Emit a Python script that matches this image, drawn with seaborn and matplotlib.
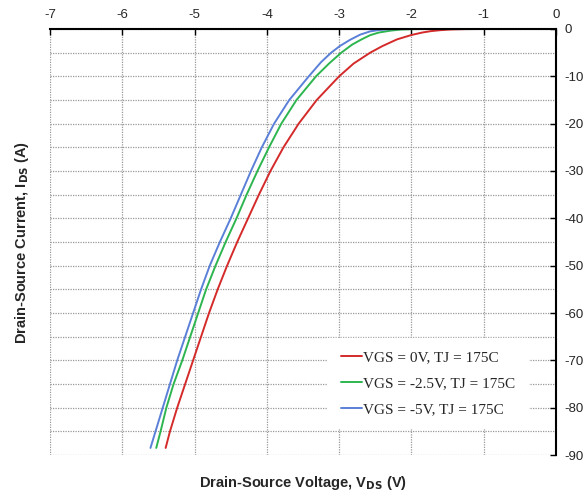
import pandas as pd
import matplotlib.pyplot as plt
import seaborn as sns
from matplotlib.ticker import MultipleLocator

# Drain-source voltage (V) and current (A)
v_red = [-5.40, -5.34, -5.24, -5.13, -5.02, -4.91, -4.80, -4.68, -4.55, -4.41,
         -4.26, -4.11, -3.95, -3.77, -3.56, -3.31, -3.00, -2.80, -2.57, -2.40,
         -2.20, -2.00, -1.85, -1.73, -1.60, -1.45, -1.25, -1.00, 0.00]
i_red = [-88.5, -85, -80, -75, -70, -65, -60, -55, -50, -45,
         -40, -35, -30, -25, -20, -15, -10, -7.3, -5, -3.6,
         -2.2, -1.27, -0.75, -0.45, -0.25, -0.1, -0.03, 0.0, 0.0]

v_green = [-5.53, -5.47, -5.39, -5.29, -5.17, -5.06, -4.95, -4.84, -4.71, -4.57,
           -4.42, -4.28, -4.13, -3.97, -3.80, -3.59, -3.32, -3.14, -2.97, -2.82,
           -2.69, -2.57, -2.45, -2.29, -2.15, -2.00, -1.80, 0.00]
i_green = [-88.5, -85, -80, -75, -70, -65, -60, -55, -50, -45,
           -40, -35, -30, -25, -20, -15, -10, -7.3, -5, -3.3,
           -2.2, -1.3, -0.75, -0.35, -0.12, -0.04, 0.0, 0.0]

v_blue = [-5.61, -5.54, -5.44, -5.34, -5.24, -5.13, -5.02, -4.91, -4.79, -4.65,
          -4.50, -4.36, -4.22, -4.07, -3.90, -3.69, -3.42, -3.25, -3.11, -2.99,
          -2.85, -2.71, -2.57, -2.45, -2.33, -2.20, -2.00, 0.00]
i_blue = [-88.5, -85, -80, -75, -70, -65, -60, -55, -50, -45,
          -40, -35, -30, -25, -20, -15, -10, -7.0, -5, -3.6,
          -2.3, -1.2, -0.5, -0.22, -0.07, -0.02, 0.0, 0.0]

labels = ["VGS = 0V, TJ = 175C", "VGS = -2.5V, TJ = 175C", "VGS = -5V, TJ = 175C"]
colors = ["#d42a2a", "#2db54f", "#5b80d8"]

df = pd.concat([
    pd.DataFrame({"V": v_red, "I": i_red, "series": labels[0]}),
    pd.DataFrame({"V": v_green, "I": i_green, "series": labels[1]}),
    pd.DataFrame({"V": v_blue, "I": i_blue, "series": labels[2]}),
])

sns.set_style("white")
plt.rcParams["font.family"] = ["Liberation Sans", "DejaVu Sans"]
plt.rcParams["axes.unicode_minus"] = False

fig = plt.figure(figsize=(5.88, 4.98), dpi=100)
ax = fig.add_axes([0.085, 0.0863, 0.8606, 0.8555])

sns.lineplot(
    data=df, x="V", y="I", hue="series", palette=colors,
    sort=False, estimator=None, linewidth=1.4, ax=ax
)

ax.set_xlim(-7, 0)
ax.set_ylim(-90, 0)
ax.xaxis.set_major_locator(MultipleLocator(1))
ax.yaxis.set_major_locator(MultipleLocator(10))
ax.yaxis.set_minor_locator(MultipleLocator(5))

ax.xaxis.tick_top()
ax.yaxis.tick_right()
ax.tick_params(axis="both", which="major", direction="in", length=4,
               width=1, color="black", labelsize=9.5)
ax.tick_params(axis="y", which="minor", length=0)
ax.tick_params(axis="x", which="major", pad=6)
ax.tick_params(axis="y", which="major", pad=6)

ax.grid(True, which="both", color="#999999", linestyle=(0, (1, 1)), linewidth=0.9)
ax.set_axisbelow(True)

for side in ["left", "bottom"]:
    ax.spines[side].set_visible(False)
for side in ["top", "right"]:
    ax.spines[side].set_visible(True)
    ax.spines[side].set_color("black")
    ax.spines[side].set_linewidth(1.5)

ax.set_xlabel(r"Drain-Source Voltage, V$_{\mathbf{DS}}$ (V)", fontsize=10.5,
              fontweight="bold", labelpad=14)
ax.xaxis.set_label_position("bottom")
ax.set_ylabel(r"Drain-Source Current, I$_{\mathbf{DS}}$ (A)", fontsize=10.5,
              fontweight="bold", labelpad=14)
ax.yaxis.set_label_position("left")

leg = ax.legend(
    loc="lower left", bbox_to_anchor=(0.535, 0.045), frameon=True,
    prop={"family": "Liberation Serif", "size": 11}, labelspacing=0.8,
    handlelength=1.4, handletextpad=0.1, borderpad=0.8, fancybox=False
)
leg.get_frame().set_facecolor("white")
leg.get_frame().set_edgecolor("white")
leg.get_frame().set_alpha(1)

plt.savefig("out.png", dpi=100)
